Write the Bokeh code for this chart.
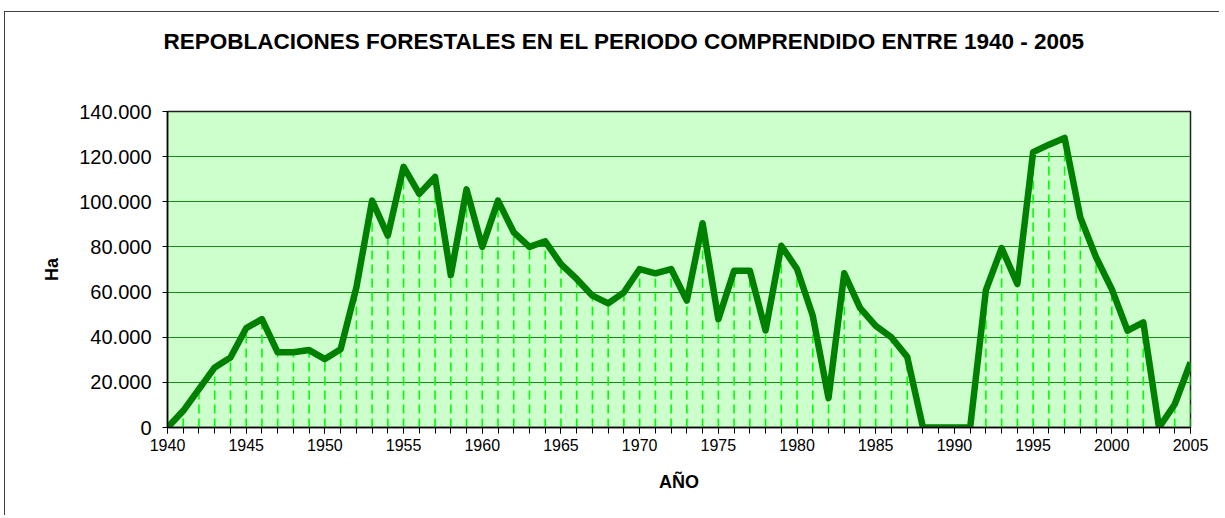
from bokeh.plotting import figure
from bokeh.models import FixedTicker, CustomJSTickFormatter, Range1d, Title
from bokeh.embed import file_html
from bokeh.resources import INLINE

years = list(range(1940, 2006))
hectares = [
    0, 7400, 17000, 26600, 31000, 44000, 48000, 33300, 33300, 34300,
    30300, 34700, 62000, 100500, 85000, 115500, 103500, 111000, 67500, 105500,
    80000, 100500, 86500, 80000, 82500, 72400, 65800, 58400, 55000, 59900,
    70200, 68300, 70200, 56200, 90500, 48000, 69500, 69500, 43000, 80500,
    70200, 49500, 13000, 68300, 53000, 45000, 39900, 31300, 0, 0,
    0, 0, 60900, 79500, 63600, 122000, 125300, 128300, 93100, 75400,
    61300, 42900, 46600, 0, 10300, 28800,
]
x_ticks = list(range(1940, 2006, 5))
y_ticks = list(range(0, 140001, 20000))
title_text = "REPOBLACIONES FORESTALES EN EL PERIODO COMPRENDIDO ENTRE 1940 - 2005"
x_title = "AÑO"
y_title = "Ha"

FONT = "Liberation Sans"

p = figure(width=1215, height=504, output_backend="svg", toolbar_location=None,
           x_range=Range1d(1940, 2005), y_range=Range1d(0, 140000),
           min_border_left=162, min_border_right=30, min_border_top=99,
           min_border_bottom=89)
p.styles = {"position": "relative", "left": "4px", "top": "11px",
            "border-left": "1px solid #404040", "border-top": "1px solid #404040"}

p.background_fill_color = "#CCFFCC"
p.border_fill_color = "white"
p.outline_line_color = "#202020"
p.outline_line_width = 1.5

# spacer between plot area and title, then the title
p.add_layout(Title(text=" ", text_font_size="1px", standoff=48), "above")
p.add_layout(Title(text=title_text, align="left", offset=-4, vertical_align="top",
                   standoff=10, text_font=FONT, text_font_style="bold",
                   text_font_size="22.5px", text_color="black"), "above")

# grid
p.xgrid.grid_line_color = None
p.ygrid.grid_line_color = "#168c16"
p.ygrid.grid_line_width = 1
p.ygrid.ticker = FixedTicker(ticks=y_ticks)

# drop lines
p.segment(x0=years, y0=[0] * len(years), x1=years, y1=hectares,
          line_color="#00FF00", line_width=1.6, line_dash="9 5")
# main line
p.line(years, hectares, line_color="#008000", line_width=6.5, line_join="round")

# x axis
xa = p.xaxis[0]
xa.ticker = FixedTicker(ticks=x_ticks, minor_ticks=years)
xa.axis_line_color = "black"
xa.axis_line_width = 1.5
xa.major_tick_in = 0
xa.major_tick_out = 6
xa.minor_tick_in = 0
xa.minor_tick_out = 6
xa.major_tick_line_color = "black"
xa.minor_tick_line_color = "black"
xa.major_label_text_font = FONT
xa.major_label_text_font_size = "16px"
xa.major_label_text_color = "black"
xa.major_label_standoff = 5
xa.axis_label = x_title
xa.axis_label_text_font = FONT
xa.axis_label_text_font_style = "bold"
xa.axis_label_text_font_size = "18px"
xa.axis_label_text_color = "black"
xa.axis_label_standoff = 18

# y axis
ya = p.yaxis[0]
ya.ticker = FixedTicker(ticks=y_ticks)
ya.formatter = CustomJSTickFormatter(
    code='return tick.toFixed(0).replace(/\\B(?=(\\d{3})+(?!\\d))/g, ".");')
ya.axis_line_color = "black"
ya.axis_line_width = 1.5
ya.major_tick_in = 0
ya.major_tick_out = 5
ya.minor_tick_in = 0
ya.minor_tick_out = 0
ya.major_tick_line_color = "black"
ya.major_label_text_font = FONT
ya.major_label_text_font_size = "20px"
ya.major_label_text_color = "black"
ya.major_label_standoff = 11
ya.axis_label = y_title
ya.axis_label_text_font = FONT
ya.axis_label_text_font_style = "bold"
ya.axis_label_text_font_size = "18px"
ya.axis_label_text_color = "black"
ya.axis_label_standoff = 14

open("out.html", "w").write(file_html(p, INLINE))
